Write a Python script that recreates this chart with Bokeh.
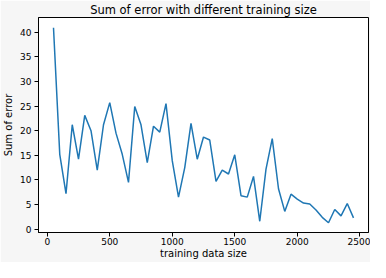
from bokeh.plotting import figure
from bokeh.models import Range1d, FixedTicker
from bokeh.embed import file_html
from bokeh.resources import INLINE

train_size = [50, 100, 150, 200, 250, 300, 350, 400, 450, 500,
              550, 600, 650, 700, 750, 800, 850, 900, 950, 1000,
              1050, 1100, 1150, 1200, 1250, 1300, 1350, 1400, 1450, 1500,
              1550, 1600, 1650, 1700, 1750, 1800, 1850, 1900, 1950, 2000,
              2050, 2100, 2150, 2200, 2250, 2300, 2350, 2400, 2450]
sum_error = [40.9, 15.2, 7.2, 21.2, 14.2, 23.1, 20.0, 12.0, 21.2, 25.7,
             19.5, 15.2, 9.5, 24.9, 21.2, 13.5, 20.9, 19.7, 25.5, 13.9,
             6.5, 12.5, 21.5, 14.2, 18.7, 18.1, 9.7, 12.0, 11.2, 15.1,
             6.8, 6.5, 10.7, 1.6, 12.2, 18.4, 8.2, 3.6, 7.1, 6.1,
             5.3, 5.1, 3.9, 2.4, 1.3, 4.0, 2.7, 5.2, 2.3]
x_ticks = [0, 500, 1000, 1500, 2000, 2500]
y_ticks = [0, 5, 10, 15, 20, 25, 30, 35, 40]

FONT = "DejaVu Sans"

p = figure(width=370, height=262, output_backend="svg", toolbar_location=None,
           title="Sum of error with different training size",
           x_range=Range1d(-70, 2570), y_range=Range1d(-0.68, 42.98),
           min_border_left=33, min_border_right=2, min_border_top=15, min_border_bottom=30)

p.line(train_size, sum_error, line_color="#1f77b4", line_width=1.5)

p.background_fill_color = "white"
p.border_fill_color = "#f6f6f6"
p.outline_line_color = "black"
p.outline_line_width = 1
p.outline_line_alpha = 1
p.grid.visible = False

p.title.text_font = FONT
p.title.text_font_size = "11.5px"
p.title.text_font_style = "normal"
p.title.align = "center"
p.title.standoff = 1
p.title.text_color = "black"

for ax in (p.xaxis[0], p.yaxis[0]):
    ax.axis_line_color = "black"
    ax.major_tick_line_color = "black"
    ax.major_tick_out = 4
    ax.major_tick_in = 0
    ax.minor_tick_line_color = None
    ax.major_label_text_font = FONT
    ax.major_label_text_font_size = "9px"
    ax.major_label_text_color = "black"
    ax.axis_label_text_font = FONT
    ax.axis_label_text_font_size = "10px"
    ax.axis_label_text_font_style = "normal"
    ax.axis_label_text_color = "black"
    ax.major_label_standoff = 3
    ax.axis_label_standoff = 3

p.xaxis[0].major_label_standoff = 1
p.xaxis[0].axis_label_standoff = 0

p.xaxis[0].ticker = FixedTicker(ticks=x_ticks)
p.yaxis[0].ticker = FixedTicker(ticks=y_ticks)
p.xaxis[0].axis_label = "training data size"
p.yaxis[0].axis_label = "Sum of error"

open("out.html", "w").write(file_html(p, INLINE))
